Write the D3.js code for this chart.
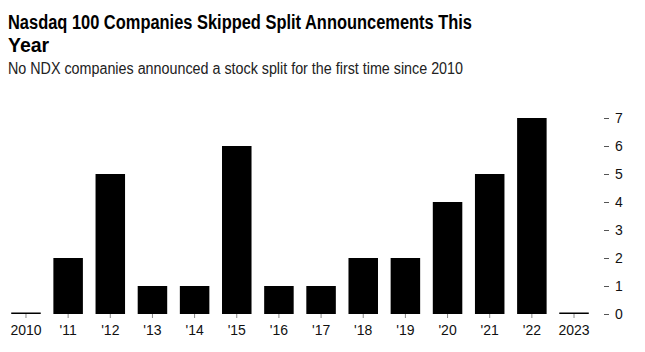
<!DOCTYPE html>
<html>
<head>
<meta charset="utf-8">
<script src="https://cdn.jsdelivr.net/npm/d3@7"></script>
<style>
  body { margin: 0; background: #fff; font-family: "Liberation Sans", Arial, sans-serif; }
  svg { display: block; }
</style>
</head>
<body>
<svg id="chart"></svg>
<script>
const years = [2010, 2011, 2012, 2013, 2014, 2015, 2016, 2017, 2018, 2019, 2020, 2021, 2022, 2023];
const yearLabels = ["2010", "'11", "'12", "'13", "'14", "'15", "'16", "'17", "'18", "'19", "'20", "'21", "'22", "2023"];
const splits = [0, 2, 5, 1, 1, 6, 1, 1, 2, 2, 4, 5, 7, 0];
const yTicks = [0, 1, 2, 3, 4, 5, 6, 7];

const W = 645, H = 352;
const svg = d3.select("#chart").attr("width", W).attr("height", H);

// title + subtitle
svg.append("text")
  .attr("x", 8).attr("y", 29)
  .attr("font-size", 19.5).attr("font-weight", 700).attr("fill", "#000")
  .attr("textLength", 464).attr("lengthAdjust", "spacingAndGlyphs")
  .text("Nasdaq 100 Companies Skipped Split Announcements This");
svg.append("text")
  .attr("x", 8).attr("y", 52)
  .attr("font-size", 19.5).attr("font-weight", 700).attr("fill", "#000")
  .text("Year");
svg.append("text")
  .attr("x", 8).attr("y", 74)
  .attr("font-size", 16).attr("fill", "#222")
  .attr("textLength", 455).attr("lengthAdjust", "spacingAndGlyphs")
  .text("No NDX companies announced a stock split for the first time since 2010");

const x = d3.scaleBand().domain(years).range([4.9, 595.1]).paddingInner(0.3).paddingOuter(0.15);
const y = d3.scaleLinear().domain([0, 7]).range([314, 118]);

// bars (zero values drawn as a thin line)
svg.append("g").selectAll("rect")
  .data(years)
  .join("rect")
  .attr("x", (d) => x(d))
  .attr("width", x.bandwidth())
  .attr("y", (d, i) => Math.min(y(splits[i]), y(0) - 1.5))
  .attr("height", (d, i) => Math.max(y(0) - y(splits[i]), 1.5))
  .attr("fill", "#000");

// x axis
const xAxis = svg.append("g")
  .attr("transform", `translate(0,${y(0)})`)
  .call(d3.axisBottom(x).tickSize(4).tickPadding(7).tickFormat((d, i) => yearLabels[i]));
xAxis.select(".domain").remove();
xAxis.selectAll(".tick line").attr("stroke", "#888");
xAxis.selectAll(".tick text").attr("font-size", 14).attr("fill", "#111")
  .attr("font-family", "Liberation Sans, Arial, sans-serif");

// y axis on the right
const yAxis = svg.append("g")
  .attr("transform", "translate(604,0)")
  .call(d3.axisRight(y).tickValues(yTicks).tickSize(5).tickPadding(6).tickFormat(d3.format("d")));
yAxis.select(".domain").remove();
yAxis.selectAll(".tick line").attr("stroke", "#555");
yAxis.selectAll(".tick text").attr("font-size", 14).attr("fill", "#111")
  .attr("font-family", "Liberation Sans, Arial, sans-serif");
</script>
</body>
</html>
